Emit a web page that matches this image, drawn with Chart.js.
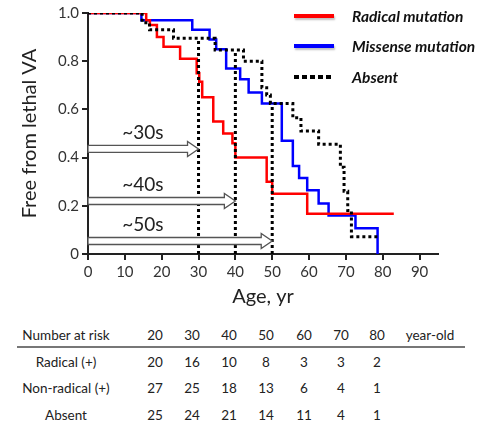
<!DOCTYPE html>
<html>
<head>
<meta charset="utf-8">
<script src="https://cdn.jsdelivr.net/npm/chart.js@4.4.1/dist/chart.umd.min.js"></script>
<style>
  body { margin: 0; background: #fff; font-family: Lato, "Open Sans", sans-serif; }
  #wrap { position: relative; width: 488px; height: 426px; overflow: hidden; }
  #chartBox { position: absolute; left: 0; top: 0; width: 488px; height: 313px; }
  .legLine { position: absolute; left: 294px; width: 40px; height: 4px; box-shadow: 1px 2px 2px rgba(0,0,0,0.25); }
  .legText { position: absolute; left: 352px; font-style: italic; font-weight: 700; font-size: 15.5px; color: #111; line-height: 18px; white-space: nowrap; }
  .cell { position: absolute; width: 120px; margin-left: -60px; text-align: center; font-size: 13.5px; color: #222; line-height: 16px; white-space: nowrap; }
  #rule { position: absolute; left: 17px; top: 346px; width: 448px; height: 2px; background: #777; }
</style>
</head>
<body>
<div id="wrap">
  <div id="chartBox"><canvas id="grafico" width="488" height="313"></canvas></div>

  <div class="legLine" style="top:14px;background:#ff0000"></div>
  <div class="legText" style="top:7px">Radical mutation</div>
  <div class="legLine" style="top:44px;background:#0000ff"></div>
  <div class="legText" style="top:37px">Missense mutation</div>
  <div class="legLine" style="top:75px;box-shadow:none;background:repeating-linear-gradient(90deg,#000 0 5px,transparent 5px 8px)"></div>
  <div class="legText" style="top:68px">Absent</div>

  <div id="rule"></div>
  <div id="tabla"></div>
</div>
<script>
// curvas Kaplan-Meier (edad, fraccion libre de VA letal)
const radicalAge  = [0, 15.8, 16.8, 18.7, 20.5, 25, 29.5, 30.2, 31, 34, 36.7, 39.2, 40, 48.5, 50, 59.5, 83];
const radicalFree = [1, 0.97, 0.95, 0.90, 0.86, 0.81, 0.75, 0.715, 0.65, 0.55, 0.50, 0.46, 0.40, 0.30, 0.25, 0.167, 0.167];

const missenseAge  = [0, 14.5, 28.3, 33, 34.8, 37.5, 41.3, 43.6, 47.2, 52.6, 55.6, 57.3, 59.5, 62.6, 65.3, 72.6, 78.6];
const missenseFree = [1, 0.97, 0.93, 0.89, 0.85, 0.77, 0.725, 0.67, 0.625, 0.47, 0.365, 0.315, 0.265, 0.21, 0.16, 0.107, 0];

const absentAge  = [0, 14.7, 16.7, 23.2, 34.5, 42.2, 47.2, 48.5, 49.5, 55.6, 57.8, 62.6, 68.5, 69.5, 70.5, 71.5, 79];
const absentFree = [1, 0.96, 0.93, 0.895, 0.846, 0.80, 0.69, 0.66, 0.625, 0.565, 0.51, 0.455, 0.36, 0.26, 0.18, 0.072, 0.072];

// lineas verticales punteadas (edad, altura)
const markerAge = [30, 40, 50];
const markerTop = [0.895, 0.846, 0.625];

// flechas
const arrowTip   = [30, 40, 50];
const arrowLevel = [0.436, 0.22, 0.054];
const arrowLabel = ['~30s', '~40s', '~50s'];

// tabla "number at risk"
const riskAges = [20, 30, 40, 50, 60, 70, 80];
const riskGroups = ['Radical (+)', 'Non-radical (+)', 'Absent'];
const riskRadical = [20, 16, 10, 8, 3, 3, 2];
const riskNonRadical = [27, 25, 18, 13, 6, 4, 1];
const riskAbsent = [25, 24, 21, 14, 11, 4, 1];

const toPts = (a, b) => a.map((v, i) => ({ x: v, y: b[i] }));

const markerPts = [];
markerAge.forEach((a, i) => {
  markerPts.push({ x: a, y: 0 }, { x: a, y: markerTop[i] }, { x: a, y: null });
});

const flechas = {
  id: 'flechas',
  afterDatasetsDraw(chart) {
    const { ctx, scales: { x, y } } = chart;
    ctx.save();
    arrowTip.forEach((tip, i) => {
      const x0 = x.getPixelForValue(0);
      const x1 = x.getPixelForValue(tip);
      const yc = y.getPixelForValue(arrowLevel[i]);
      const hx = x1 - 11;
      ctx.beginPath();
      ctx.moveTo(x0, yc - 3.5);
      ctx.lineTo(hx, yc - 3.5);
      ctx.lineTo(hx, yc - 7.5);
      ctx.lineTo(x1, yc);
      ctx.lineTo(hx, yc + 7.5);
      ctx.lineTo(hx, yc + 3.5);
      ctx.lineTo(x0, yc + 3.5);
      ctx.closePath();
      ctx.fillStyle = '#fff';
      ctx.fill();
      ctx.lineWidth = 1.3;
      ctx.strokeStyle = '#555';
      ctx.stroke();
      ctx.fillStyle = '#222';
      ctx.font = '19px Lato, "Open Sans", sans-serif';
      ctx.textBaseline = 'middle';
      ctx.textAlign = 'left';
      ctx.fillText(arrowLabel[i], x.getPixelForValue(9.3), yc - 16);
    });
    ctx.restore();
  }
};

const ctx = document.getElementById('grafico');
new Chart(ctx, {
  type: 'line',
  data: {
    datasets: [
      { data: toPts(absentAge, absentFree), stepped: true, borderColor: '#000', borderWidth: 3, borderDash: [3, 3], pointRadius: 0, fill: false },
      { data: markerPts, borderColor: '#000', borderWidth: 3, borderDash: [3, 3], pointRadius: 0, spanGaps: false, fill: false },
      { data: toPts(radicalAge, radicalFree), stepped: true, borderColor: '#ff0000', borderWidth: 2.5, pointRadius: 0, fill: false },
      { data: toPts(missenseAge, missenseFree), stepped: true, borderColor: '#0000ff', borderWidth: 2.5, pointRadius: 0, fill: false }
    ]
  },
  options: {
    responsive: false,
    animation: false,
    layout: { padding: { left: 14, right: 50, top: 13, bottom: 0 } },
    plugins: { legend: { display: false }, tooltip: { enabled: false } },
    scales: {
      x: {
        type: 'linear', min: 0, max: 95,
        afterFit: (s) => { s.height = 59; },
        ticks: { stepSize: 10, includeBounds: false, color: '#333', font: { family: 'Lato', size: 15 }, maxRotation: 0, padding: 3 },
        grid: { drawOnChartArea: false, drawTicks: true, tickLength: 6, color: '#222', lineWidth: 2 },
        border: { color: '#222', width: 2 },
        title: { display: true, text: 'Age, yr', color: '#222', font: { family: 'Lato', size: 20 } }
      },
      y: {
        min: 0, max: 1,
        afterFit: (s) => { s.width = 74; },
        ticks: { stepSize: 0.2, color: '#333', font: { family: 'Lato', size: 15 }, padding: 3,
          callback: (v) => v === 0 ? '0' : v.toFixed(1) },
        grid: { drawOnChartArea: false, drawTicks: true, tickLength: 6, color: '#222', lineWidth: 2 },
        border: { color: '#222', width: 2 },
        title: { display: true, text: 'Free from lethal VA', color: '#222', font: { family: 'Lato', size: 20 } }
      }
    }
  },
  plugins: [flechas]
});

// tabla
const tabla = document.getElementById('tabla');
const colX = [155, 192, 229, 266, 304, 341, 377];
function celda(txt, cx, cy) {
  const d = document.createElement('div');
  d.className = 'cell';
  d.textContent = txt;
  d.style.left = cx + 'px';
  d.style.top = (cy - 8) + 'px';
  tabla.appendChild(d);
}
celda('Number at risk', 66, 335);
riskAges.forEach((a, i) => celda(a, colX[i], 335));
celda('year-old', 430, 335);
const filas = [riskRadical, riskNonRadical, riskAbsent];
const filaY = [362, 388, 415];
riskGroups.forEach((g, r) => {
  celda(g, 66, filaY[r]);
  filas[r].forEach((n, i) => celda(n, colX[i], filaY[r]));
});
</script>
</body>
</html>
